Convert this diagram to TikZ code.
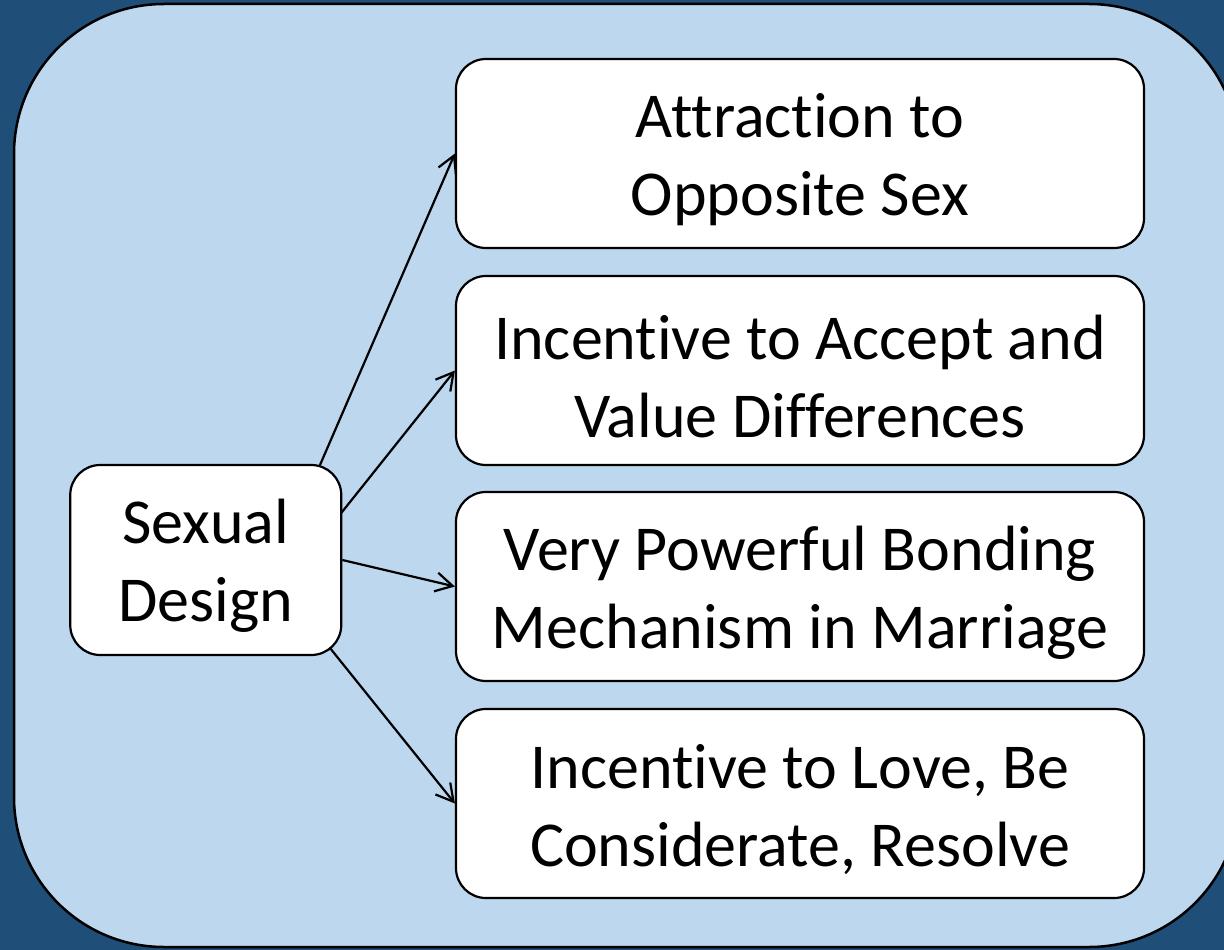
\documentclass[tikz,border=0pt]{standalone}
\usepackage{fontspec}
\setmainfont{Carlito}[RawFeature={-liga;-clig;-dlig}]
\usetikzlibrary{arrows.meta,calc}
\definecolor{darkbg}{RGB}{31,78,121}
\definecolor{lightbg}{RGB}{189,215,238}
\tikzset{
  box/.style={draw=black, line width=2.2pt, fill=white, rounded corners=30pt, inner sep=0pt},
  boxtext/.style={align=center, font=\fontsize{64}{78}\selectfont, yshift=-6pt},
  leftbox/.style={box, minimum width=271pt, minimum height=190pt},
  rightbox/.style={box, minimum width=688pt, minimum height=189pt},
  conn/.style={draw=black, line width=2.2pt, -{Straight Barb[length=17pt,width=19pt,line width=2.2pt]}}
}
\begin{document}
\begin{tikzpicture}[x=1pt,y=-1pt]
\useasboundingbox (0,0) rectangle (1224,950);
\clip (0,0) rectangle (1224,950);
\fill[darkbg] (0,0) rectangle (1224,950);
\draw[line width=2.5pt, fill=lightbg, rounded corners=150pt] (14,4) rectangle (1239,947);
\node[leftbox, label={[boxtext]center:Sexual\\Design}] (sd) at (205.75,560) {};
\node[rightbox, label={[boxtext]center:Attraction to\\Opposite Sex}] (t1) at (800,153.5) {};
\node[rightbox, label={[boxtext]center:Incentive to Accept and\\Value Differences}] (t2) at (800,370.5) {};
\node[rightbox, label={[boxtext]center:Very Powerful Bonding\\Mechanism in Marriage}] (t3) at (800,586.5) {};
\node[rightbox, label={[boxtext]center:Incentive to Love, Be\\Considerate, Resolve}] (t4) at (800,803.5) {};
\draw[conn] ($(sd.center)+(114.25,-95)$) -- (t1.west);
\draw[conn] ($(sd.center)+(135.5,-47)$) -- (t2.west);
\draw[conn] (sd.east) -- (t3.west);
\draw[conn] ($(sd.center)+(124.25,88)$) -- (t4.west);
\end{tikzpicture}
\end{document}
